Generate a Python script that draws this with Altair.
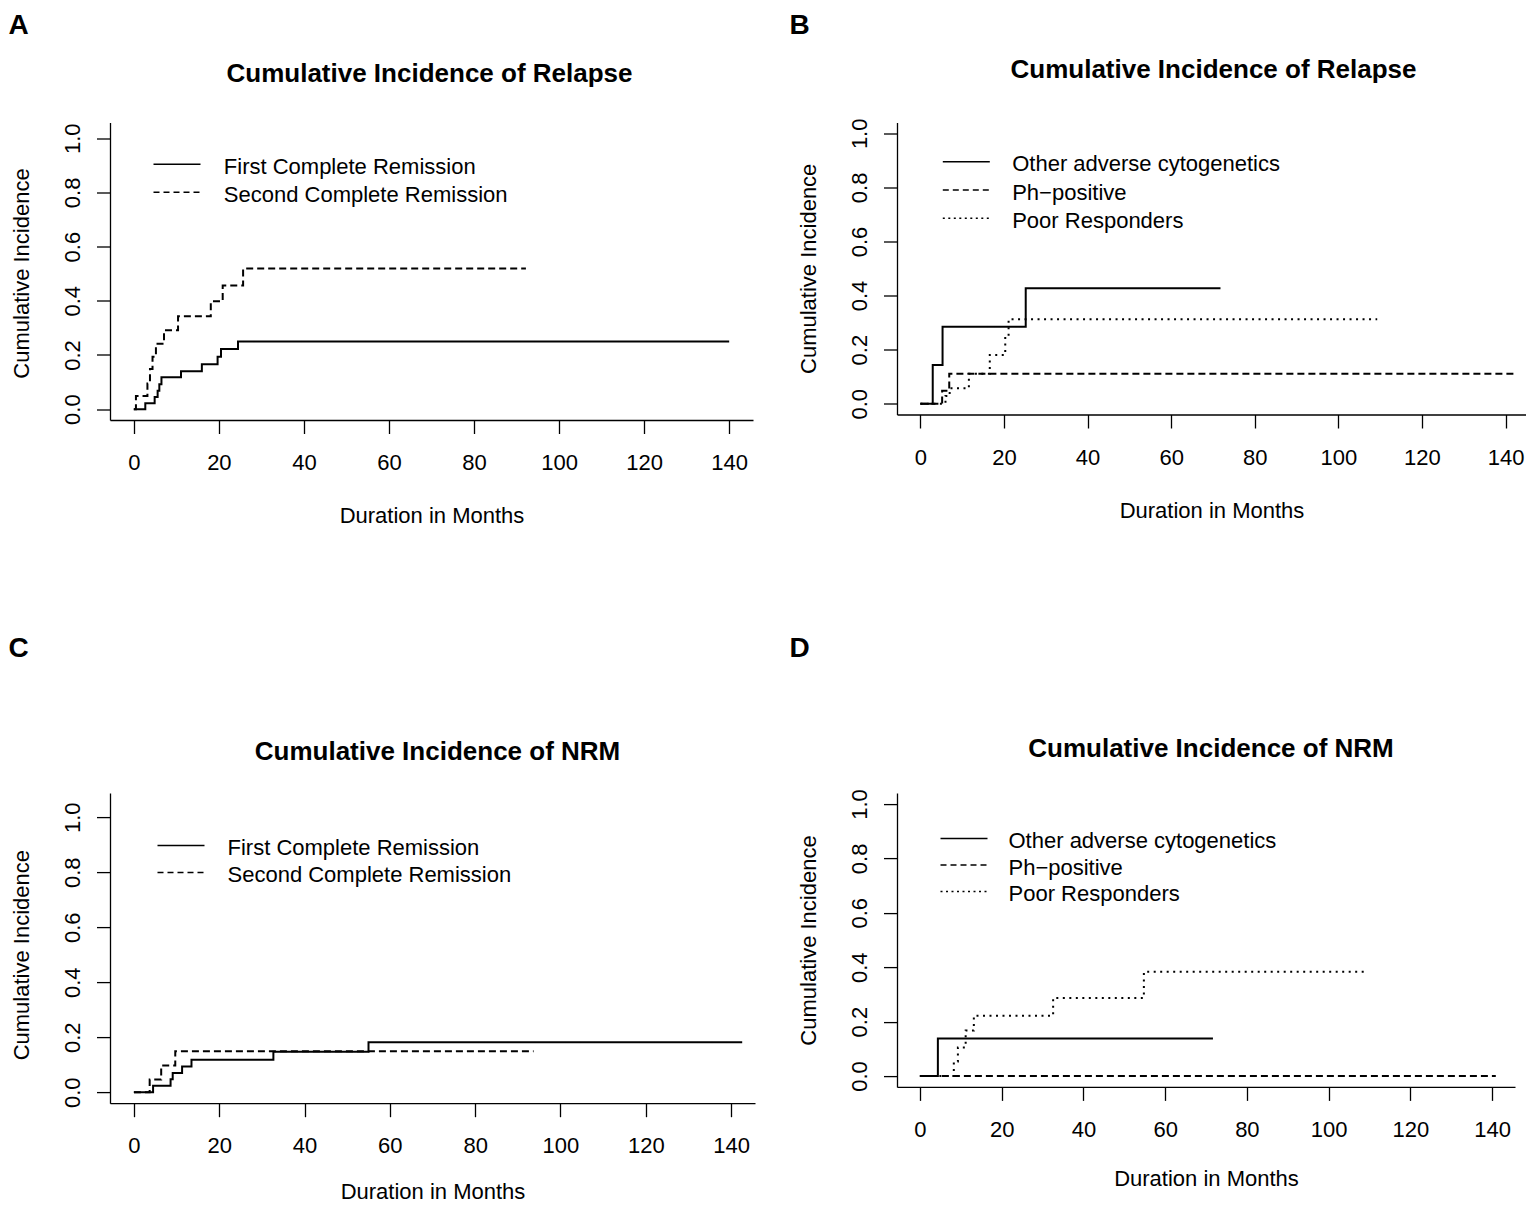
import altair as alt
import pandas as pd

FONT = "Liberation Sans"

X_TICKS = [0, 20, 40, 60, 80, 100, 120, 140]
Y_TICKS = [0.0, 0.2, 0.4, 0.6, 0.8, 1.0]
X_TITLE = "Duration in Months"
Y_TITLE = "Cumulative Incidence"

# ---------------- Panel A ----------------
A_TITLE = "Cumulative Incidence of Relapse"
A_NAMES = ["First Complete Remission", "Second Complete Remission"]
A_FIRST_T = [0, 2.7, 4.9, 5.6, 6.0, 6.5, 11.1, 16.0, 19.7, 20.5, 24.5, 140.0]
A_FIRST_V = [0.0, 0.022, 0.045, 0.068, 0.092, 0.118, 0.140, 0.166, 0.193, 0.222, 0.250, 0.250]
A_SECOND_T = [0, 0.5, 3.2, 3.8, 4.4, 5.2, 7.1, 10.4, 18.1, 20.9, 25.7, 92.2]
A_SECOND_V = [0.0, 0.049, 0.095, 0.148, 0.193, 0.241, 0.291, 0.343, 0.398, 0.456, 0.519, 0.519]

# ---------------- Panel B ----------------
B_TITLE = "Cumulative Incidence of Relapse"
B_NAMES = ["Other adverse cytogenetics", "Ph\u2212positive", "Poor Responders"]
B_OTHER_T = [0, 2.95, 5.3, 25.2, 71.8]
B_OTHER_V = [0.0, 0.143, 0.285, 0.427, 0.427]
B_PH_T = [0, 5.2, 6.9, 141.9]
B_PH_V = [0.0, 0.048, 0.111, 0.111]
B_POOR_T = [0, 6.0, 7.0, 11.6, 16.6, 20.3, 21.1, 109.3]
B_POOR_V = [0.0, 0.028, 0.057, 0.111, 0.180, 0.248, 0.312, 0.312]

# ---------------- Panel C ----------------
C_TITLE = "Cumulative Incidence of NRM"
C_NAMES = ["First Complete Remission", "Second Complete Remission"]
C_FIRST_T = [0, 4.5, 8.6, 9.1, 11.3, 13.5, 32.7, 55.0, 142.6]
C_FIRST_V = [0.0, 0.023, 0.047, 0.070, 0.093, 0.118, 0.147, 0.182, 0.182]
C_SECOND_T = [0, 3.7, 6.4, 9.7, 93.7]
C_SECOND_V = [0.0, 0.046, 0.097, 0.149, 0.149]

# ---------------- Panel D ----------------
D_TITLE = "Cumulative Incidence of NRM"
D_NAMES = ["Other adverse cytogenetics", "Ph\u2212positive", "Poor Responders"]
D_OTHER_T = [0, 4.4, 71.7]
D_OTHER_V = [0.0, 0.138, 0.138]
D_PH_T = [0, 140.9]
D_PH_V = [0.0, 0.0]
D_POOR_T = [0, 8.3, 9.3, 11.2, 13.2, 32.6, 54.8, 109.1]
D_POOR_V = [0.0, 0.053, 0.105, 0.167, 0.222, 0.287, 0.383, 0.383]

# styles (kept apart from the data)
LINE_DASH = {"solid": [1, 0], "dashed": [7, 4], "dotted": [2, 4.5]}
LEG_DASH = {"solid": [1, 0], "dashed": [6, 4], "dotted": [2, 3.5]}


def make_panel(letter, title, names, times, values, styles, lay):
    xenc = alt.X(
        "t:Q",
        scale=alt.Scale(domain=[-5.6, lay["xmax"]], nice=False, zero=False),
        axis=alt.Axis(
            values=X_TICKS, format="d", title=X_TITLE, labelPadding=19,
            labelFlush=False, labelOverlap=False, titleY=lay["xty"],
            titleBaseline="top", titleAlign="center",
        ),
    )
    yenc = alt.Y(
        "v:Q",
        scale=alt.Scale(domain=[-0.04, lay["ymax"]], nice=False, zero=False),
        axis=alt.Axis(
            values=Y_TICKS, format=".1f", title=Y_TITLE, labelAngle=270,
            labelAlign="center", labelBaseline="alphabetic", labelPadding=17,
            labelFlush=False, labelOverlap=False, titleAngle=270,
            titleAlign="center", titleBaseline="alphabetic",
            titleX=-82, titleY=lay["yty"],
        ),
    )
    layers = []
    for t, v, st in zip(times, values, styles):
        df = pd.DataFrame({"t": t, "v": v})
        layers.append(
            alt.Chart(df)
            .mark_line(interpolate="step-after", color="black", strokeWidth=2,
                       strokeDash=LINE_DASH[st])
            .encode(x=xenc, y=yenc)
        )
    for i, (name, st) in enumerate(zip(names, styles)):
        ldf = pd.DataFrame({"label": [name]})
        ly = lay["ly"] + i * lay["ldy"]
        layers.append(
            alt.Chart(ldf)
            .mark_rule(color="black", strokeWidth=1.5, strokeDash=LEG_DASH[st])
            .encode(x=alt.value(lay["lx"]), x2=alt.value(lay["lx"] + 47),
                    y=alt.value(ly))
        )
        layers.append(
            alt.Chart(ldf)
            .mark_text(align="left", baseline="middle", fontSize=22, color="black")
            .encode(x=alt.value(lay["tx"]), y=alt.value(ly + 2.5), text="label:N")
        )
    # panel title
    layers.append(
        alt.Chart(pd.DataFrame({"title": [title]}))
        .mark_text(align="center", baseline="alphabetic", fontSize=26,
                   fontWeight="bold", color="black")
        .encode(x=alt.value(lay["w"] / 2 + lay["tdx"]), y=alt.value(-lay["toff"]),
                text="title:N")
    )
    # panel letter
    layers.append(
        alt.Chart(pd.DataFrame({"letter": [letter]}))
        .mark_text(align="left", baseline="top", fontSize=28, fontWeight="bold",
                   color="black")
        .encode(x=alt.value(lay["letx"]), y=alt.value(lay["lety"]), text="letter:N")
    )
    return alt.layer(*layers).properties(width=lay["w"], height=lay["h"])


LAY_A = dict(w=643, h=297.5, xmax=145.6, ymax=1.058, xty=85.4, yty=150.5,
             toff=40.2, tdx=-2, lx=43.5, ly=41.8, ldy=28, tx=113.8, letx=-101.5,
             lety=-111)
LAY_B = dict(w=629, h=292, xmax=144.9, ymax=1.04, xty=85.9, yty=145.8,
             toff=44.2, tdx=2, lx=45.8, ly=39.2, ldy=28.3, tx=115.2, letx=-107.5,
             lety=-111)
LAY_C = dict(w=645, h=310.1, xmax=145.6, ymax=1.0876, xty=78, yty=161.6,
             toff=33.3, tdx=5, lx=47.5, ly=52.4, ldy=27, tx=117.5, letx=-101.5,
             lety=-158.6)
LAY_D = dict(w=618, h=293.8, xmax=145.6, ymax=1.04, xty=82, yty=146.9,
             toff=36.3, tdx=5, lx=43.5, ly=45.4, ldy=26.5, tx=111.5, letx=-107.5,
             lety=-158.6)

pA = make_panel("A", A_TITLE, A_NAMES, [A_FIRST_T, A_SECOND_T],
                [A_FIRST_V, A_SECOND_V], ["solid", "dashed"], LAY_A)
pB = make_panel("B", B_TITLE, B_NAMES, [B_OTHER_T, B_PH_T, B_POOR_T],
                [B_OTHER_V, B_PH_V, B_POOR_V], ["solid", "dashed", "dotted"], LAY_B)
pC = make_panel("C", C_TITLE, C_NAMES, [C_FIRST_T, C_SECOND_T],
                [C_FIRST_V, C_SECOND_V], ["solid", "dashed"], LAY_C)
pD = make_panel("D", D_TITLE, D_NAMES, [D_OTHER_T, D_PH_T, D_POOR_T],
                [D_OTHER_V, D_PH_V, D_POOR_V], ["solid", "dashed", "dotted"], LAY_D)

chart = (
    alt.concat(pA, pB, pC, pD, columns=2,
               spacing={"row": 372.6, "column": 142},
               bounds="flush", align="each")
    .properties(padding={"left": 0, "top": 3.5, "right": 0, "bottom": 0})
    .configure(font=FONT)
    .configure_view(stroke=None)
    .configure_axis(
        grid=False, domainColor="black", tickColor="black", domainWidth=1.3,
        tickWidth=1.3, tickSize=13.5, labelColor="black", titleColor="black",
        labelFontSize=22, titleFontSize=22, titleFontWeight="normal",
        labelFont=FONT, titleFont=FONT,
    )
)

chart.save("out.html", embed_options={"renderer": "svg", "actions": False})
